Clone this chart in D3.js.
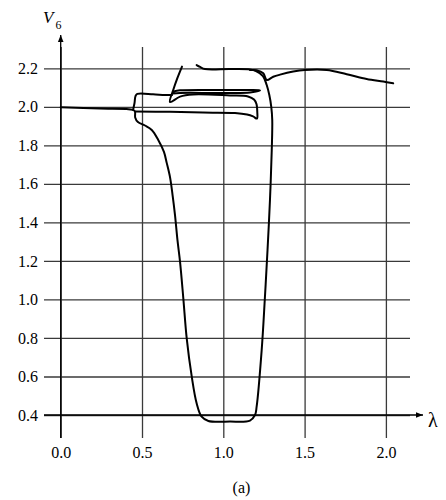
<!DOCTYPE html>
<html>
<head>
<meta charset="utf-8">
<script src="https://cdn.jsdelivr.net/npm/d3@7"></script>
<style>
  body { margin: 0; background: #fff; }
  svg { display: block; }
  svg text { font-family: "Liberation Serif", "Times New Roman", Times, serif !important; fill: #000; }
</style>
</head>
<body>
<div id="chart"></div>
<script>
// tick values
var xTicks = [0, 0.5, 1.0, 1.5, 2.0];
var yTicks = [0.4, 0.6, 0.8, 1.0, 1.2, 1.4, 1.6, 1.8, 2.0, 2.2];

// branches of V6 vs lambda
var mainBranch = [
    [0.0, 1.998], [0.24, 1.991], [0.445, 1.984], [0.457, 1.975], [0.458, 1.945],
    [0.475, 1.921], [0.518, 1.903], [0.56, 1.88], [0.6, 1.828], [0.635, 1.766],
    [0.652, 1.709], [0.672, 1.636], [0.688, 1.542], [0.703, 1.438], [0.718, 1.309],
    [0.734, 1.195], [0.754, 1.007], [0.775, 0.798], [0.806, 0.599], [0.836, 0.461],
    [0.867, 0.391], [0.908, 0.369], [1.041, 0.366], [1.164, 0.371], [1.195, 0.4],
    [1.205, 0.443], [1.236, 0.737], [1.255, 0.997], [1.272, 1.257], [1.287, 1.516],
    [1.298, 1.776], [1.301, 1.932], [1.295, 2.0], [1.283, 2.061], [1.267, 2.113],
    [1.244, 2.16], [1.201, 2.186], [1.164, 2.194], [1.041, 2.196], [0.887, 2.196],
    [0.857, 2.207], [0.836, 2.217]
];
var loopBranch = [
    [0.457, 1.976], [0.672, 1.974], [0.875, 1.97], [1.072, 1.968], [1.146, 1.96],
    [1.183, 1.95], [1.207, 1.939], [1.209, 1.973], [1.204, 2.015], [1.189, 2.038],
    [1.152, 2.054], [1.041, 2.059], [0.814, 2.064], [0.734, 2.053], [0.672, 2.025],
    [0.692, 2.087], [0.718, 2.15], [0.746, 2.209]
];
var kinkBranch = [
    [0.445, 1.984], [0.454, 2.02], [0.46, 2.056], [0.471, 2.067], [0.568, 2.065],
    [0.641, 2.061], [0.685, 2.061]
];
var spikeBranch = [
    [0.694, 2.08], [0.734, 2.086], [1.041, 2.087], [1.164, 2.087], [1.226, 2.085],
    [1.164, 2.074], [0.98, 2.072], [0.734, 2.072], [0.691, 2.069]
];
var tailBranch = [
    [1.164, 2.191], [1.205, 2.19], [1.246, 2.174], [1.267, 2.139], [1.307, 2.156],
    [1.349, 2.167], [1.43, 2.183], [1.502, 2.191], [1.636, 2.191], [1.759, 2.169],
    [1.882, 2.145], [1.984, 2.131], [2.045, 2.122]
];

var width = 446, height = 500;
var serif = '"Liberation Serif", "Times New Roman", Times, serif';

var x = d3.scaleLinear().domain([0, 2]).range([60.7, 385.9]);
var y = d3.scaleLinear().domain([0.4, 2.2]).range([415, 68.3]);

var svg = d3.select('#chart').append('svg')
    .attr('width', width)
    .attr('height', height);

var defs = svg.append('defs');
defs.append('marker')
    .attr('id', 'arrow')
    .attr('viewBox', '0 -5 10 10')
    .attr('refX', 10)
    .attr('refY', 0)
    .attr('markerWidth', 7)
    .attr('markerHeight', 7)
    .attr('markerUnits', 'userSpaceOnUse')
    .attr('orient', 'auto')
    .append('path')
    .attr('d', 'M0,-4L10,0L0,4Z')
    .attr('fill', '#000');

// horizontal grid + y labels
var yAxis = svg.append('g')
    .attr('transform', 'translate(44,0)')
    .call(d3.axisLeft(y).tickValues(yTicks).tickFormat(d3.format('.1f'))
        .tickSize(-(410 - 44)).tickPadding(6));
yAxis.attr('font-family', serif).attr('font-size', 16);
yAxis.select('.domain').remove();
yAxis.selectAll('line').attr('stroke', '#3a3a3a').attr('stroke-width', 1.3);

// vertical grid + x labels
var xAxis = svg.append('g')
    .attr('transform', 'translate(0,438)')
    .call(d3.axisBottom(x).tickValues(xTicks).tickFormat(d3.format('.1f'))
        .tickSize(-(438 - 47)).tickPadding(8.5));
xAxis.attr('font-family', serif).attr('font-size', 16);
xAxis.select('.domain').remove();
xAxis.selectAll('line').attr('stroke', '#3a3a3a').attr('stroke-width', 1.3);

// axes with arrows
svg.append('line')
    .attr('x1', 44).attr('y1', y(0.4)).attr('x2', 423).attr('y2', y(0.4))
    .attr('stroke', '#000').attr('stroke-width', 1.3)
    .attr('marker-end', 'url(#arrow)');
svg.append('line')
    .attr('x1', x(0)).attr('y1', 438).attr('x2', x(0)).attr('y2', 35)
    .attr('stroke', '#000').attr('stroke-width', 1.3)
    .attr('marker-end', 'url(#arrow)');

// curves
var line = d3.line()
    .x(function(d) { return x(d[0]); })
    .y(function(d) { return y(d[1]); })
    .curve(d3.curveCatmullRom.alpha(0.5));

var branches = [mainBranch, loopBranch, kinkBranch, spikeBranch, tailBranch];
svg.append('g').selectAll('path')
    .data(branches)
    .join('path')
    .attr('d', line)
    .attr('fill', 'none')
    .attr('stroke', '#000')
    .attr('stroke-width', 2)
    .attr('stroke-linejoin', 'round')
    .attr('stroke-linecap', 'round');

// labels
var vLabel = svg.append('text')
    .attr('x', 43).attr('y', 23)
    .attr('font-family', serif)
    .attr('font-size', '17px')
    .attr('font-style', 'italic');
vLabel.append('tspan').text('V');
vLabel.append('tspan').attr('font-size', '12px').attr('font-style', 'normal')
    .attr('dx', 2).attr('dy', 6).text('6');

svg.append('text')
    .attr('x', 428).attr('y', 427)
    .attr('font-family', serif)
    .attr('font-size', '20px')
    .text('λ');

svg.append('text')
    .attr('x', 241.5).attr('y', 493)
    .attr('text-anchor', 'middle')
    .attr('font-family', serif)
    .attr('font-size', '16px')
    .text('(a)');
</script>
</body>
</html>
